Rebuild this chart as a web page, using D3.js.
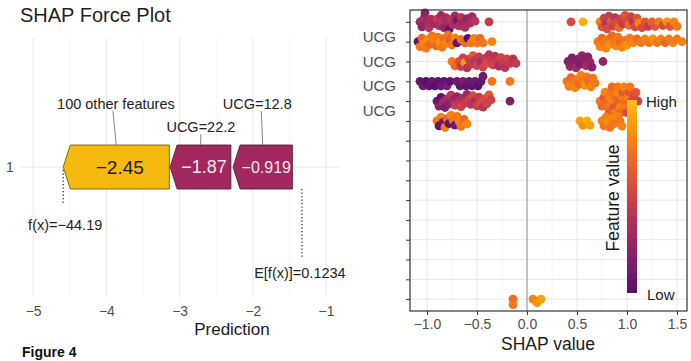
<!DOCTYPE html>
<html><head><meta charset="utf-8">
<script src="https://cdn.jsdelivr.net/npm/d3@7"></script>
<style>body{margin:0;background:#fff}svg{display:block;font-family:"Liberation Sans",Arial,sans-serif}</style>
</head><body><svg id="c" width="691" height="361"></svg>
<script>
// ---------- DATA: force plot ----------
const forceLabels = ["100 other features", "UCG=22.2", "UCG=12.8"];
const forceValueText = ["\u22122.45", "\u22121.87", "\u22120.919"];
const forceStart = [-4.59, -3.13, -2.27];   // arrow tip (left)
const forceEnd = [-3.14, -2.30, -1.46];     // flat end (right)
const predTicks = [-5, -4, -3, -2, -1];
const fxValue = -4.59, fxText = "f(x)=\u221244.19";
const efxValue = -1.33, efxText = "E[f(x)]=0.1234";

// ---------- DATA: beeswarm (SHAP value, feature value 0..1) per row ----------
const rowLabels = ["UCG", "UCG", "UCG", "UCG"];
const rowLabelPos = [1.76, 3.03, 4.24, 5.5];
const shapTicks = [-1, -0.5, 0, 0.5, 1, 1.5];
const row1 = [[-1.07,.3],[-1.05,.25],[-1.03,.35],[-1.02,.2],[-1.0,.3],[-0.98,.4],[-0.96,.35],[-0.93,.3],[-0.9,.45],[-0.88,.35],[-0.86,.3],[-0.85,.4],[-0.83,.25],[-0.81,.35],[-0.8,.3],[-0.78,.05],[-0.76,.4],[-0.74,.35],[-0.72,.3],[-0.7,.1],[-0.68,.35],[-0.66,.4],[-0.64,.3],[-0.62,.35],[-0.6,.25],[-0.57,.35],[-0.55,.3],[-0.52,.4],[-0.38,.45],
  [0.44,.55],[0.56,.95],[0.73,.8],[0.75,.6],[0.77,.5],[0.79,.4],[0.8,.55],[0.82,.45],[0.84,.6],[0.86,.5],[0.88,.4],[0.9,.55],[0.92,.7],[0.94,.5],[0.96,.45],[0.98,.6],[1.0,.55],[1.02,.7],[1.04,.5],[1.06,.4],[1.08,.55],[1.1,.6],[1.12,.8],[1.15,.55],[1.18,.6],[1.21,.45],[1.25,.65],[1.28,.6],[1.32,.75],[1.36,.55],[1.4,.85],[1.43,.6],[1.47,.8],[1.5,.75]];
const row2 = [[-1.09,.05],[-1.07,.75],[-1.05,.7],[-1.03,.8],[-1.01,.75],[-0.99,.85],[-0.97,.7],[-0.95,.75],[-0.93,.8],[-0.91,.7],[-0.89,.75],[-0.87,.85],[-0.85,.75],[-0.83,.7],[-0.81,.8],[-0.79,.75],[-0.77,.65],[-0.75,.75],[-0.72,.8],[-0.7,.05],[-0.66,.75],[-0.62,.7],[-0.59,.0],[-0.56,.75],[-0.53,.8],[-0.5,.75],[-0.47,.7],[-0.44,.75],[-0.35,.8],
  [0.71,.75],[0.73,.8],[0.75,.7],[0.77,.75],[0.79,.8],[0.81,.75],[0.83,.85],[0.85,.7],[0.87,.75],[0.89,.8],[0.91,.75],[0.93,.7],[0.95,.8],[0.98,.75],[1.0,.85],[1.03,.75],[1.06,.8],[1.1,.7],[1.14,.75],[1.18,.8],[1.22,.75],[1.26,.85],[1.3,.75],[1.34,.8],[1.38,.7],[1.42,.75],[1.46,.8],[1.5,.75],[1.55,.8]];
const row3 = [[-0.75,.75],[-0.72,.7],[-0.68,.55],[-0.66,.45],[-0.64,.5],[-0.62,.9],[-0.6,.4],[-0.58,.5],[-0.56,.45],[-0.54,.6],[-0.52,.4],[-0.5,.5],[-0.48,.45],[-0.46,.35],[-0.44,.5],[-0.42,.45],[-0.4,.55],[-0.38,.4],[-0.36,.45],[-0.34,.5],[-0.32,.4],[-0.3,.45],[-0.28,.35],[-0.26,.5],[-0.24,.45],[-0.22,.4],[-0.2,.5],[-0.17,.45],[-0.14,.4],[-0.11,.45],
  [0.41,.2],[0.43,.25],[0.45,.15],[0.47,.2],[0.49,.3],[0.51,.2],[0.53,.15],[0.55,.25],[0.57,.2],[0.59,.3],[0.61,.2],[0.63,.25],[0.65,.2],[0.76,.25]];
const row4 = [[-1.07,.05],[-1.04,.1],[-1.01,0],[-0.98,.05],[-0.95,.1],[-0.92,.0],[-0.89,.05],[-0.86,.1],[-0.83,.05],[-0.8,.15],[-0.77,.05],[-0.7,.1],[-0.67,.05],[-0.64,.15],[-0.61,.05],[-0.58,.1],[-0.55,.05],[-0.52,.1],[-0.49,.0],[-0.46,.05],[-0.44,.1],[-0.35,.75],[-0.17,.75],
  [0.4,.75],[0.42,.8],[0.44,.7],[0.46,.75],[0.48,.8],[0.5,.75],[0.52,.7],[0.54,.8],[0.56,.75],[0.58,.85],[0.6,.75],[0.62,.7],[0.64,.8],[0.66,.75],[0.68,.75]];
const row5 = [[-0.9,.1],[-0.88,.2],[-0.86,.05],[-0.84,.3],[-0.82,.15],[-0.8,.35],[-0.78,.2],[-0.76,.4],[-0.74,.3],[-0.72,.45],[-0.7,.25],[-0.68,.4],[-0.66,.5],[-0.64,.35],[-0.62,.45],[-0.6,.3],[-0.58,.5],[-0.56,.4],[-0.54,.55],[-0.52,.35],[-0.5,.5],[-0.48,.45],[-0.46,.55],[-0.44,.4],[-0.42,.55],[-0.4,.5],[-0.38,.6],[-0.36,.5],[-0.17,.15],
  [0.73,.75],[0.75,.7],[0.77,.6],[0.78,.8],[0.8,.7],[0.81,.75],[0.82,.65],[0.83,.8],[0.84,.75],[0.85,.7],[0.86,.8],[0.87,.6],[0.88,.75],[0.89,.7],[0.9,.8],[0.91,.75],[0.92,.65],[0.93,.8],[0.94,.7],[0.95,.75],[0.96,.6],[0.97,.8],[0.98,.7],[0.99,.75],[1.0,.55],[1.01,.8],[1.02,.6],[1.03,.75],[1.04,.5],[1.05,.7],[1.07,.55],[1.09,.6],[1.11,.5]];
const row6 = [[-0.9,.75],[-0.88,.05],[-0.86,.8],[-0.84,.1],[-0.82,.75],[-0.8,.7],[-0.78,.05],[-0.76,.8],[-0.74,.75],[-0.72,.1],[-0.7,.75],[-0.68,.8],[-0.66,.75],[-0.63,.7],[-0.6,.8],
  [0.53,.9],[0.56,.85],[0.6,.95],[0.63,.9],[0.75,.8],[0.77,.75],[0.79,.8],[0.81,.85],[0.83,.75],[0.85,.8],[0.87,.75],[0.9,.8],[0.93,.75],[0.95,.8]];
const row15 = [[-0.14,.7],[-0.14,.75],[0.06,.8],[0.1,.85],[0.14,.9]];
const rows = [row1,row2,row3,row4,row5,row6,[],[],[],[],[],[],[],[],row15];

// ---------- STYLE / LAYOUT ----------
const svg = d3.select("#c");
const gridMajor = "#e6e6e6", gridMinor = "#f1f1f1", axisText = "#4d4d4d";
const forceFill = ["#f5b90f", "#a2285f", "#a2285f"];
const forceStroke = ["#6b5200", "#4a0f2a", "#4a0f2a"];
const forceTextFill = ["#1a1a1a", "#f6e3ec", "#f6e3ec"];
const forceTextSize = [19, 18, 16];
const labelLayout = [{x:-3.87,y:104},{x:-2.71,y:127},{x:-1.94,y:104}];

// ================= LEFT: force plot =================
const xL = d3.scaleLinear().domain([-5.18, -0.81]).range([20, 340]);
const pTop = 38, pBot = 297, yMid = 167, barH = 22, head = 7;

svg.append("text").attr("x", 20).attr("y", 22).attr("font-size", 20).attr("fill", "#1f1f1f").text("SHAP Force Plot");

const gL = svg.append("g");
gL.selectAll("line.minor").data(d3.range(-4.5, -1, 1)).join("line")
  .attr("x1", d => xL(d)).attr("x2", d => xL(d)).attr("y1", pTop).attr("y2", pBot)
  .attr("stroke", gridMinor).attr("stroke-width", 0.8);
gL.selectAll("line.major").data(predTicks).join("line")
  .attr("x1", d => xL(d)).attr("x2", d => xL(d)).attr("y1", pTop).attr("y2", pBot)
  .attr("stroke", gridMajor).attr("stroke-width", 1);
gL.append("line").attr("x1", 20).attr("x2", 340).attr("y1", yMid).attr("y2", yMid)
  .attr("stroke", gridMajor).attr("stroke-width", 1);

const axL = svg.append("g").attr("transform", `translate(0,${pBot})`)
  .call(d3.axisBottom(xL).tickValues(predTicks).tickSize(0).tickPadding(9).tickFormat(d => d3.format("")(d).replace("-", "\u2212")));
axL.select(".domain").remove();
axL.selectAll("text").attr("font-size", 14).attr("fill", axisText).attr("font-family", "Liberation Sans, Arial, sans-serif");
svg.append("text").attr("x", 232).attr("y", 335).attr("text-anchor", "middle").attr("font-size", 17).attr("fill", "#1a1a1a").text("Prediction");
svg.append("text").attr("x", 10).attr("y", yMid + 5).attr("text-anchor", "middle").attr("font-size", 14).attr("fill", axisText).text("1");

svg.append("line").attr("x1", xL(fxValue)).attr("x2", xL(fxValue)).attr("y1", 170).attr("y2", 204)
  .attr("stroke", "#333").attr("stroke-width", 1.3).attr("stroke-dasharray", "1.3,2.2");
svg.append("line").attr("x1", xL(efxValue)).attr("x2", xL(efxValue)).attr("y1", 189).attr("y2", 258)
  .attr("stroke", "#333").attr("stroke-width", 1.3).attr("stroke-dasharray", "1.3,2.2");
svg.append("text").attr("x", xL(fxValue) + 2).attr("y", 230).attr("text-anchor", "middle").attr("font-size", 14.5).attr("fill", "#222").text(fxText);
svg.append("text").attr("x", xL(efxValue) - 2).attr("y", 278).attr("text-anchor", "middle").attr("font-size", 14.5).attr("fill", "#222").text(efxText);

forceStart.forEach((s, i) => {
  const x0 = xL(s), x1 = xL(forceEnd[i]);
  const pts = [[x0, yMid], [x0 + head, yMid - barH], [x1, yMid - barH], [x1, yMid + barH], [x0 + head, yMid + barH]];
  svg.append("path").attr("d", d3.line()(pts) + "Z")
    .attr("fill", forceFill[i]).attr("stroke", forceStroke[i]).attr("stroke-width", 0.8);
  const cx = (x0 + x1) / 2 + head / 2;
  svg.append("text").attr("x", cx).attr("y", yMid + forceTextSize[i] * 0.36)
    .attr("text-anchor", "middle").attr("font-size", forceTextSize[i]).attr("fill", forceTextFill[i]).text(forceValueText[i]);
  const lx = xL(labelLayout[i].x), ly = labelLayout[i].y;
  svg.append("line").attr("x1", lx + (i === 0 ? -3 : (i === 2 ? 4 : 0))).attr("y1", ly + 7)
    .attr("x2", (x0 + x1) / 2).attr("y2", yMid - barH)
    .attr("stroke", "#777").attr("stroke-width", 0.9);
  svg.append("text").attr("x", lx).attr("y", ly + 5).attr("text-anchor", "middle")
    .attr("font-size", 14.5).attr("fill", "#222").text(forceLabels[i]);
});

svg.append("text").attr("x", 22).attr("y", 357).attr("font-size", 14).attr("font-weight", "bold").attr("fill", "#111").text("Figure 4");

// ================= RIGHT: beeswarm =================
const xR = d3.scaleLinear().domain([-1.17, 1.60]).range([410, 687]);
const yR = d3.scaleLinear().domain([0.4, 15.6]).range([10, 311]);
const color = v => d3.interpolateInferno(0.25 + 0.6 * v);
const gR = svg.append("g");

gR.selectAll("line.vmin").data([-0.75, -0.25, 0.25, 0.75, 1.25]).join("line")
  .attr("x1", d => xR(d)).attr("x2", d => xR(d)).attr("y1", 10).attr("y2", 311)
  .attr("stroke", gridMinor).attr("stroke-width", 0.8);
gR.selectAll("line.vmaj").data(shapTicks).join("line")
  .attr("x1", d => xR(d)).attr("x2", d => xR(d)).attr("y1", 10).attr("y2", 311)
  .attr("stroke", gridMajor).attr("stroke-width", 1);
gR.selectAll("line.hmaj").data(d3.range(1, 16)).join("line")
  .attr("x1", 410).attr("x2", 687).attr("y1", d => yR(d)).attr("y2", d => yR(d))
  .attr("stroke", gridMajor).attr("stroke-width", 1);
gR.append("line").attr("x1", xR(0)).attr("x2", xR(0)).attr("y1", 10).attr("y2", 311)
  .attr("stroke", "#a8a8a8").attr("stroke-width", 1.3);

const R = 4.4, M = 5.4;
function swarm(pts, rowIdx) {
  const items = pts.map(p => ({ s: p[0], v: p[1], px: xR(p[0]) }));
  const order = items.slice().sort((a, b) => a.px - b.px);
  const placed = [];
  order.forEach(p => {
    const iv = [];
    placed.forEach(q => {
      const dx = p.px - q.px;
      if (Math.abs(dx) < M) { const h = Math.sqrt(M * M - dx * dx); iv.push([q.dy - h, q.dy + h]); }
    });
    const cands = [0];
    iv.forEach(([a, b]) => cands.push(a, b));
    cands.sort((a, b) => Math.abs(a) - Math.abs(b) || b - a);
    for (const c of cands) {
      if (iv.every(([a, b]) => c <= a + 1e-6 || c >= b - 1e-6)) { p.dy = c; break; }
    }
    placed.push(p);
  });
  items.forEach(p => { p.py = yR(rowIdx + 1) + p.dy; });
  return items;
}
rows.forEach((r, i) => {
  const items = swarm(r, i);
  gR.append("g").selectAll("circle").data(items).join("circle")
    .attr("cx", d => d.px).attr("cy", d => d.py).attr("r", R).attr("fill", d => color(d.v));
});

svg.append("rect").attr("x", 410).attr("y", 10).attr("width", 277).attr("height", 301)
  .attr("fill", "none").attr("stroke", "#333").attr("stroke-width", 1.2);

const axB = svg.append("g").attr("transform", "translate(0,311)")
  .call(d3.axisBottom(xR).tickValues(shapTicks).tickSize(4).tickPadding(4).tickFormat(d => d3.format(".1f")(d).replace("-", "\u2212")));
axB.select(".domain").remove();
axB.selectAll("line").attr("stroke", "#333");
axB.selectAll("text").attr("font-size", 14).attr("fill", axisText).attr("font-family", "Liberation Sans, Arial, sans-serif");
const axLft = svg.append("g").attr("transform", "translate(410,0)")
  .call(d3.axisLeft(yR).tickValues(d3.range(1, 16)).tickSize(4).tickFormat(""));
axLft.select(".domain").remove();
axLft.selectAll("line").attr("stroke", "#333");
rowLabels.forEach((t, i) => {
  svg.append("text").attr("x", 396).attr("y", yR(rowLabelPos[i]) + 5).attr("text-anchor", "end")
    .attr("font-size", 15).attr("fill", axisText).text(t);
});
svg.append("text").attr("x", 548).attr("y", 350).attr("text-anchor", "middle").attr("font-size", 17.5).attr("fill", "#1a1a1a").text("SHAP value");

const defs = svg.append("defs");
const grad = defs.append("linearGradient").attr("id", "cb").attr("x1", 0).attr("x2", 0).attr("y1", 1).attr("y2", 0);
d3.range(0, 1.001, 0.1).forEach(t => grad.append("stop").attr("offset", t).attr("stop-color", color(t)));
svg.append("rect").attr("x", 627).attr("y", 100).attr("width", 10).attr("height", 193).attr("fill", "url(#cb)");
svg.append("text").attr("x", 646).attr("y", 107).attr("font-size", 15).attr("fill", "#222").text("High");
svg.append("text").attr("x", 647).attr("y", 300).attr("font-size", 15).attr("fill", "#222").text("Low");
svg.append("text").attr("transform", "translate(619,198) rotate(-90)").attr("text-anchor", "middle")
  .attr("font-size", 17.5).attr("fill", "#1a1a1a").text("Feature value");
</script></body></html>
